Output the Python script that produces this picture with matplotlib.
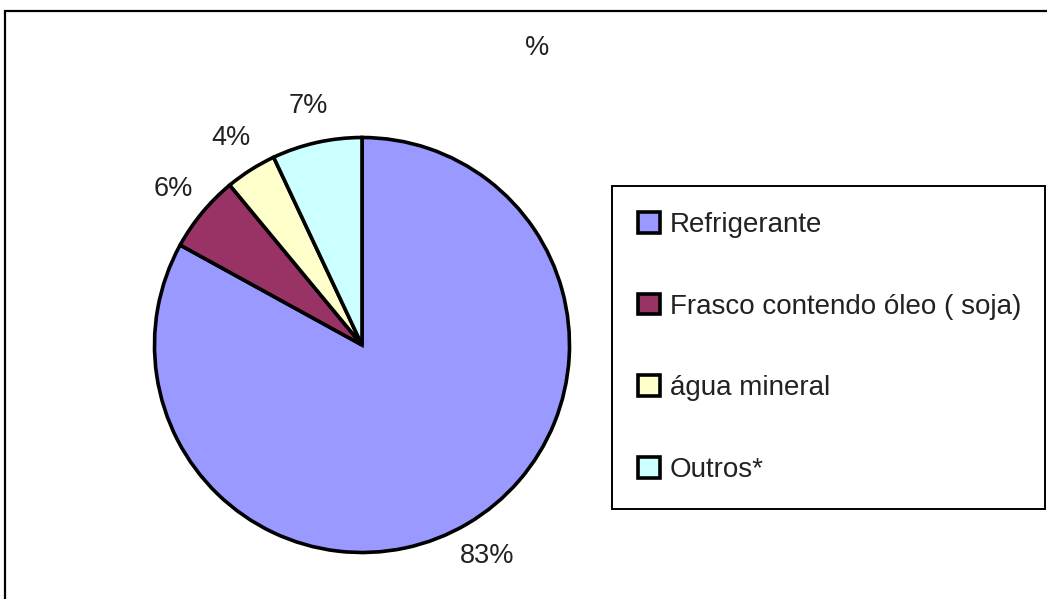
import matplotlib
matplotlib.use('Agg')
import matplotlib.pyplot as plt
from matplotlib.patches import Rectangle

plt.rcParams['font.family'] = ['Liberation Sans', 'DejaVu Sans']

categories = ['Refrigerante', 'Frasco contendo óleo ( soja)', 'água mineral', 'Outros*']
values = [83, 6, 4, 7]
pct_labels = ['83%', '6%', '4%', '7%']
colors = ['#9999FF', '#993366', '#FFFFCC', '#CCFFFF']

W, H = 1047, 599
fig = plt.figure(figsize=(W / 100, H / 100), dpi=100)
ax = fig.add_axes([0, 0, 1, 1])

wedges, texts = ax.pie(values, labels=pct_labels, colors=colors,
                       startangle=90, counterclock=False,
                       center=(362, H - 345), radius=207.5,
                       labeldistance=1.18,
                       wedgeprops=dict(edgecolor='black', linewidth=2.6),
                       textprops=dict(fontsize=19.5, color='#222222', ha='center', va='center'))
ax.set_xlim(0, W)
ax.set_ylim(0, H)
ax.set_aspect('equal')
ax.axis('off')

ax.text(537, H - 48, '%', fontsize=19.5, color='#222222', ha='center', va='center')

# outer chart frame
fig.patches.append(Rectangle((5, -10), W + 10, H - 11 + 10, transform=None,
                             fill=False, edgecolor='black', linewidth=1.6))

leg = ax.legend(wedges, categories, loc='center left',
                bbox_to_anchor=(612 / W, 1 - 510 / H, (1045 - 612) / W, (508 - 183) / H),
                bbox_transform=fig.transFigure, mode='expand',
                fontsize=20, frameon=True, fancybox=False, framealpha=1,
                edgecolor='black', handlelength=0.78, handleheight=0.78,
                handletextpad=0.35, labelspacing=2.0, borderpad=0.95,
                borderaxespad=0)
leg.get_frame().set_linewidth(1.4)
for t in leg.get_texts():
    t.set_color('#222222')

fig.savefig('out.png', dpi=100)
